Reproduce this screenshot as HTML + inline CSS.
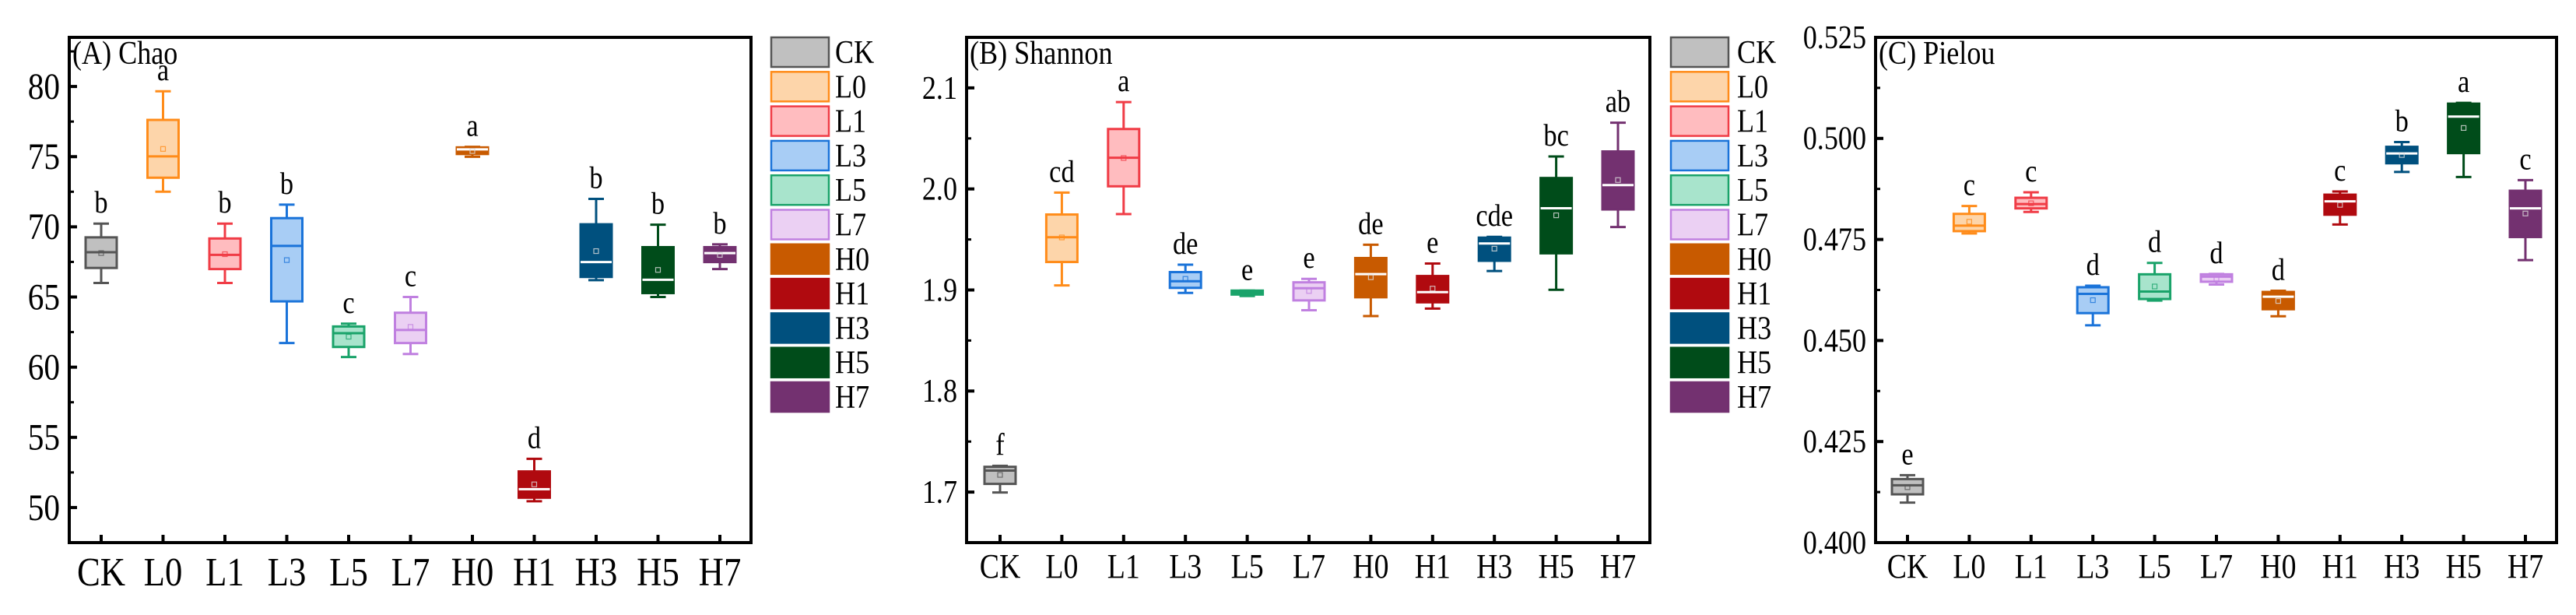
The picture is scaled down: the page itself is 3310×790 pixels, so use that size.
<!DOCTYPE html>
<html><head><meta charset="utf-8">
<style>
html,body{margin:0;padding:0;background:#fff;}
svg{display:block;}
text{font-family:"Liberation Serif","DejaVu Serif",serif;fill:#000;}
</style></head>
<body>
<svg id="chart" width="3310" height="790" viewBox="0 0 3310 790" xmlns="http://www.w3.org/2000/svg"></svg>
<script>
const categories = ["CK","L0","L1","L3","L5","L7","H0","H1","H3","H5","H7"];
const fillColors = ["#c0c0c0","#fdd5aa","#ffbcbf","#a8cdf5","#a8e4cc","#ebd0f3","#c85a00","#b00a0f","#00507e","#004c1a","#733170"];
const lineColors = ["#555555","#ff8c1a","#f03c46","#1a73d9","#1aa36a","#c080e0","#c85a00","#b00a0f","#00507e","#004c1a","#733170"];
const darkBox = [false,false,false,false,false,false,true,true,true,true,true];

// Panel A: Chao
const chaoMin  = [66.0,72.5,66.0,61.72,60.72,60.94,74.99,50.45,66.2,65.0,66.99];
const chaoQ1   = [67.07,73.5,66.99,64.69,61.44,61.72,75.19,50.7,66.43,65.28,67.49];
const chaoMed  = [68.19,75.02,68.0,68.64,62.42,62.65,75.52,51.31,67.49,66.23,68.13];
const chaoQ3   = [69.25,77.62,69.17,70.62,62.9,63.88,75.66,52.57,70.18,68.55,68.55];
const chaoMax  = [70.23,79.66,70.23,71.58,63.1,65.0,75.7,53.47,71.99,70.15,68.75];
const chaoMean = [68.13,75.55,68.05,67.63,62.17,62.87,75.4,51.65,68.27,66.93,68.0];
const chaoLetters = ["b","a","b","b","c","c","a","d","b","b","b"];
const chaoTicks = [50,55,60,65,70,75,80];

// Panel B: Shannon
const shanMin  = [1.6996,1.9045,1.9751,1.8971,1.894,1.88,1.8742,1.8816,1.9188,1.9002,1.9623];
const shanQ1   = [1.7081,1.9277,2.0026,1.9021,1.8955,1.8897,1.8928,1.8878,1.9289,1.9363,1.9797];
const shanMed  = [1.7213,1.9522,2.0309,1.9087,1.8975,1.9017,1.9157,1.8979,1.946,1.9809,2.0038];
const shanQ3   = [1.725,1.9747,2.0593,1.9177,1.8994,1.9076,1.9316,1.9138,1.9518,2.0108,2.0371];
const shanMax  = [1.726,1.9964,2.086,1.925,1.8994,1.911,1.9448,1.9262,1.9526,2.0321,2.0655];
const shanMean = [1.717,1.952,2.0306,1.911,1.8975,1.899,1.9126,1.9014,1.9409,1.9739,2.0088];
const shanLetters = ["f","cd","a","de","e","e","de","e","cde","bc","ab"];
const shanTicks = [1.7,1.8,1.9,2.0,2.1];

// Panel C: Pielou
const pielMin  = [0.4099,0.47648,0.48181,0.45377,0.45988,0.46386,0.45599,0.47871,0.49171,0.49045,0.46988];
const pielQ1   = [0.41194,0.47706,0.48269,0.45678,0.46027,0.46454,0.45774,0.48113,0.49385,0.49637,0.4756];
const pielMed  = [0.41417,0.47842,0.48375,0.46153,0.46211,0.4658,0.46085,0.48443,0.49627,0.5054,0.48269];
const pielQ3   = [0.41572,0.48133,0.48531,0.46318,0.46638,0.46638,0.46201,0.48608,0.49792,0.5086,0.48705];
const pielMax  = [0.41669,0.48327,0.48667,0.46357,0.4692,0.46648,0.4623,0.48686,0.49909,0.50879,0.48967];
const pielMean = [0.4137,0.47939,0.48395,0.45998,0.46337,0.46531,0.45978,0.48356,0.49589,0.50258,0.48142];
const pielLetters = ["e","c","c","d","d","d","d","c","b","a","c"];
const pielTicks = [0.400,0.425,0.450,0.475,0.500,0.525];

const NS = "http://www.w3.org/2000/svg";
const svg = document.getElementById("chart");
const SX = 0.86;
function mk(tag, attrs, parent){
  const e = document.createElementNS(NS, tag);
  for (const k in attrs) e.setAttribute(k, attrs[k]);
  (parent||svg).appendChild(e);
  return e;
}
function txt(parent, x, y, s, size, anchor){
  const t = mk("text", {x:0, y:0, "font-size":size, "text-anchor":anchor||"start",
    transform:"translate(" + x + "," + y + ") scale(" + SX + ",1)"}, parent);
  t.textContent = s;
  return t;
}

function drawPanel(p){
  const g = mk("g", {});
  
  
  const yScale = v => p.bottom - (v - p.ymin) / (p.ymax - p.ymin) * (p.bottom - p.top);
  const xScale = i => p.x0 + i * p.dx;

  const frame = mk("rect", {x:p.left, y:p.top, width:p.right-p.left, height:p.bottom-p.top, fill:"none", stroke:"#000", "stroke-width":4}, g);
  
  

  const step = p.ticks[1] - p.ticks[0];
  p.ticks.forEach((t, i) => {
    const y = yScale(t);
    const tk = mk("line", {x1:p.left, x2:p.left+10, y1:y, y2:y, stroke:"#000", "stroke-width":4}, g);
    
    
    const lb = txt(g, p.left-12, y+p.tfs*0.33, t.toFixed(p.dec), p.tfs, "end");
    
    
    const mv = t + step/2;
    if (mv < p.ymax) {
      const my = yScale(mv);
      const mt = mk("line", {x1:p.left, x2:p.left+6, y1:my, y2:my, stroke:"#000", "stroke-width":3}, g);
      
      
    }
  });
  const tt = txt(g, p.left+4, p.top+34, p.title, 42);
  
  

  categories.forEach((c, i) => {
    const x = xScale(i);
    const xt = mk("line", {x1:x, x2:x, y1:p.bottom, y2:p.bottom-10, stroke:"#000", "stroke-width":4}, g);
    
    
    const xl = txt(g, x, p.xly, c, p.xfs, "middle");
    
    

    const bg = mk("g", {}, g);
    
    
    const lc = lineColors[i], fc = fillColors[i];
    const hw = 20, cw = 10;
    const yMin = yScale(p.mn[i]), yQ1 = yScale(p.q1[i]), yMed = yScale(p.md[i]), yQ3 = yScale(p.q3[i]), yMax = yScale(p.mx[i]);
    mk("line", {x1:x, x2:x, y1:yMax, y2:yQ3, stroke:lc, "stroke-width":3}, bg);
    mk("line", {x1:x, x2:x, y1:yQ1, y2:yMin, stroke:lc, "stroke-width":3}, bg);
    mk("line", {x1:x-cw, x2:x+cw, y1:yMax, y2:yMax, stroke:lc, "stroke-width":3}, bg);
    mk("line", {x1:x-cw, x2:x+cw, y1:yMin, y2:yMin, stroke:lc, "stroke-width":3}, bg);
    mk("rect", {x:x-hw, y:yQ3, width:2*hw, height:Math.max(1,yQ1-yQ3), fill:fc, stroke:lc, "stroke-width":3}, bg);
    mk("line", {x1:x-hw, x2:x+hw, y1:yMed, y2:yMed, stroke:darkBox[i]?"#ffffff":lc, "stroke-width":3}, bg);
    const ym = yScale(p.mean[i]);
    mk("rect", {x:x-3, y:ym-3, width:6, height:6, fill:"none", stroke:darkBox[i]?"#dddddd":lc, "stroke-width":1.2, opacity:0.8}, bg);
    const lt = txt(g, x, yMax-14, p.letters[i], 40, "middle");
    
    
  });
}

function drawLegend(lx, tx, name){
  const g = mk("g", {});
  
  
  categories.forEach((c, i) => {
    const y = 48 + i * 44.3;
    const e = mk("g", {}, g);
    
    
    mk("rect", {x:lx, y:y, width:74, height:38, fill:fillColors[i], stroke:lineColors[i], "stroke-width":2.5}, e);
    txt(e, tx, y+33, c, 42);
  });
}

drawPanel({name:"chao-panel", title:"(A) Chao", left:89, right:965, top:48, bottom:697, ymin:47.5, ymax:83.5,
  x0:130, dx:79.5, ticks:chaoTicks, dec:0, tfs:48, xfs:52, xly:752,
  mn:chaoMin, q1:chaoQ1, md:chaoMed, q3:chaoQ3, mx:chaoMax, mean:chaoMean, letters:chaoLetters});
drawPanel({name:"shannon-panel", title:"(B) Shannon", left:1242, right:2120, top:48, bottom:697, ymin:1.65, ymax:2.15,
  x0:1285, dx:79.4, ticks:shanTicks, dec:1, tfs:42, xfs:44, xly:742,
  mn:shanMin, q1:shanQ1, md:shanMed, q3:shanQ3, mx:shanMax, mean:shanMean, letters:shanLetters});
drawPanel({name:"pielou-panel", title:"(C) Pielou", left:2410, right:3285, top:48, bottom:697, ymin:0.4, ymax:0.525,
  x0:2451, dx:79.4, ticks:pielTicks, dec:3, tfs:42, xfs:44, xly:742,
  mn:pielMin, q1:pielQ1, md:pielMed, q3:pielQ3, mx:pielMax, mean:pielMean, letters:pielLetters});
drawLegend(991, 1073, "legend-a");
drawLegend(2147, 2232, "legend-b");
</script>
</body></html>
